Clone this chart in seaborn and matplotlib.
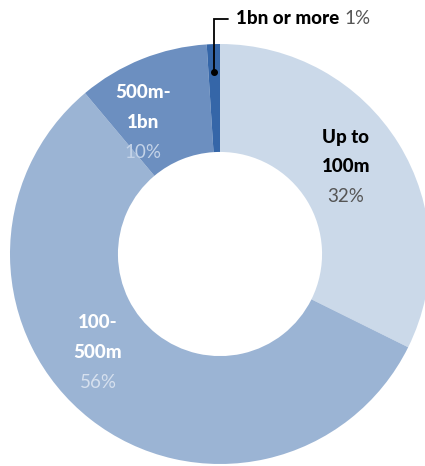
import numpy as np
import matplotlib
matplotlib.use("Agg")
import matplotlib.pyplot as plt
import seaborn as sns

# Share of companies by size band
categories = ["Up to\n100m", "100-\n500m", "500m-\n1bn", "1bn or more"]
shares = [32, 56, 10, 1]
share_labels = ["32%", "56%", "10%", "1%"]

colors = ["#cbd9e9", "#9bb4d4", "#6c8fc0", "#3566a8"]

sns.set_theme(style="white")
plt.rcParams["font.family"] = ["Lato", "DejaVu Sans"]

W, H = 425, 466
fig = plt.figure(figsize=(W / 100, H / 100), dpi=100)
ax = fig.add_axes([0, 0, 1, 1])

R = 210.0
cx, cy = 220.0, 212.0  # ring centre in pixels from lower-left

wedges, _ = ax.pie(
    shares, colors=colors, startangle=90, counterclock=False, radius=1.0,
    wedgeprops=dict(width=0.514, edgecolor="none", linewidth=0),
)
ax.set_xlim(-cx / R, (W - cx) / R)
ax.set_ylim(-cy / R, (H - cy) / R)
ax.set_aspect("auto")
ax.axis("off")

FS = 13.5
bold = dict(fontsize=FS, fontweight=900, ha="center", va="center")
pct = dict(fontsize=FS, fontweight="normal", ha="center", va="center")
dy = 30 / R

def label(x, y, name, share, name_col, pct_col):
    n = name.count("\n") + 1
    top = y + dy * n / 2
    for i, line in enumerate(name.split("\n")):
        ax.text(x, top - i * dy, line, color=name_col, **bold)
    ax.text(x, top - n * dy, share, color=pct_col, **pct)

# in-ring labels (pixel positions converted to data units)
def px(x, y):
    return (x - cx) / R, (H - y - cy) / R

x, y = px(346, 167)
label(x, y, categories[0], share_labels[0], "black", "#555555")
x, y = px(98, 353)
label(x, y, categories[1], share_labels[1], "white", "#d6e0ee")
x, y = px(143, 123)
label(x, y, categories[2], share_labels[2], "white", "#c4d3e8")

# callout for the smallest band
w = wedges[3]
mid = np.deg2rad((w.theta1 + w.theta2) / 2)
rdot = 0.867
dx_, dy_ = rdot * np.cos(mid), rdot * np.sin(mid)
ytop = px(0, 19)[1]
xend = dx_ + 14 / R
ax.plot([dx_, dx_, xend], [dy_, ytop, ytop], color="black", lw=1.3,
        solid_joinstyle="miter")
ax.plot(dx_, dy_, "o", color="black", ms=4)
t = ax.text(xend + 8 / R, ytop, categories[3], color="black",
            fontsize=FS, fontweight=900, ha="left", va="center")
fig.canvas.draw()
bb = t.get_window_extent()
xr = ax.transData.inverted().transform((bb.x1, bb.y0))[0]
ax.text(xr + 5 / R, ytop, share_labels[3], color="#555555",
        fontsize=FS, fontweight="normal", ha="left", va="center")

fig.savefig("out.png", dpi=100)
